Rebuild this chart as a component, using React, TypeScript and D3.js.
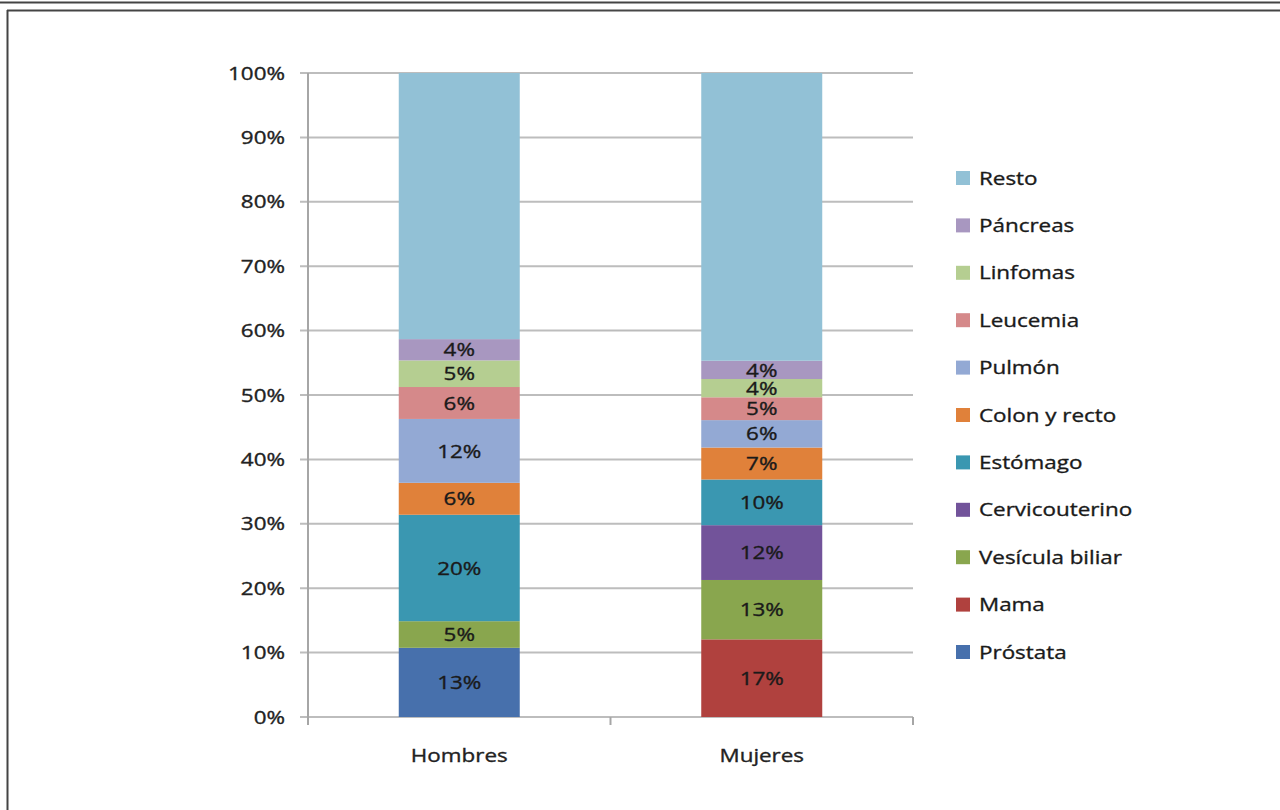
import React from "react";
import * as d3 from "d3";

// Categories along the x axis
const groups = ["Hombres", "Mujeres"];

// Cancer types, bottom of the stack first
const causes = [
  "Próstata",
  "Mama",
  "Vesícula biliar",
  "Cervicouterino",
  "Estómago",
  "Colon y recto",
  "Pulmón",
  "Leucemia",
  "Linfomas",
  "Páncreas",
  "Resto",
];

// Values per cause (same order as `causes`) for each group
const hombresValues = [13, 0, 5, 0, 20, 6, 12, 6, 5, 4, 50];
const mujeresValues = [0, 17, 13, 12, 10, 7, 6, 5, 4, 4, 63];

// Which segments carry a value label
const labelled = causes.map((c) => c !== "Resto");

const causeColors = [
  "#4770ac",
  "#b0413e",
  "#89a64e",
  "#72539a",
  "#3a97b1",
  "#e0813a",
  "#93a9d4",
  "#d5898a",
  "#b5ce91",
  "#a897c0",
  "#92c1d6",
];

const yTicks = [0, 0.1, 0.2, 0.3, 0.4, 0.5, 0.6, 0.7, 0.8, 0.9, 1];

const W = 1280;
const H = 810;
const FONT = "'Open Sans', Lato, sans-serif";
const STRETCH = 1.18;

// Text drawn with a slight horizontal stretch, anchored at (x, y)
function Label(props: {
  x: number;
  y: number;
  anchor?: "start" | "middle" | "end";
  size?: number;
  fill?: string;
  children: React.ReactNode;
}) {
  const { x, y, anchor = "start", size = 19, fill = "#111", children } = props;
  return (
    <text
      transform={`translate(${x},${y}) scale(${STRETCH},1)`}
      dy="0.35em"
      textAnchor={anchor}
      fontFamily={FONT}
      fontSize={size}
      fontWeight={500}
      fill={fill}
      stroke={fill}
      strokeWidth={0.35}
    >
      {children}
    </text>
  );
}

export default function App() {
  const plot = { left: 308, right: 913, top: 73, bottom: 717 };

  const rows = groups.map((g, gi) => {
    const vals = gi === 0 ? hombresValues : mujeresValues;
    const row: Record<string, any> = { group: g };
    causes.forEach((c, i) => (row[c] = vals[i]));
    return row;
  });

  const stack = d3
    .stack<Record<string, any>>()
    .keys(causes)
    .offset(d3.stackOffsetExpand);
  const series = stack(rows);

  const x = d3
    .scaleBand()
    .domain(groups)
    .range([plot.left, plot.right])
    .paddingInner(0)
    .paddingOuter(0);
  const barW = x.bandwidth() * 0.4;

  const y = d3.scaleLinear().domain([0, 1]).range([plot.bottom, plot.top]);
  const fmt = d3.format(".0%");

  const color = d3.scaleOrdinal<string, string>().domain(causes).range(causeColors);

  const legendX = 956;
  const legendTop = 178;
  const legendStep = 47.4;
  const legendOrder = causes.slice().reverse();

  return (
    <div style={{ position: "absolute", left: 0, top: 0 }}>
      <svg width={W} height={H} style={{ display: "block", background: "#fff" }}>
        {/* page frame */}
        <line x1={0} x2={W} y1={2.5} y2={2.5} stroke="#444" strokeWidth={2} />
        <line x1={7} x2={W} y1={10.5} y2={10.5} stroke="#444" strokeWidth={2} />
        <line x1={7.5} x2={7.5} y1={10} y2={H} stroke="#444" strokeWidth={2} />

        {/* horizontal gridlines */}
        {yTicks.map((t) => (
          <line
            key={"g" + t}
            x1={plot.left - 8}
            x2={plot.right}
            y1={y(t)}
            y2={y(t)}
            stroke="#bdbdbd"
            strokeWidth={2}
          />
        ))}

        {/* y axis */}
        <line x1={plot.left} x2={plot.left} y1={plot.top} y2={plot.bottom} stroke="#a6a6a6" strokeWidth={2} />
        {yTicks.map((t) => (
          <Label key={"t" + t} x={plot.left - 23} y={y(t)} anchor="end" fill="#222">
            {fmt(t)}
          </Label>
        ))}

        {/* x axis category ticks */}
        {[plot.left, ...groups.map((g) => (x(g) as number) + x.bandwidth())].map((xx, i) => (
          <line key={"xt" + i} x1={xx} x2={xx} y1={plot.bottom} y2={plot.bottom + 8} stroke="#a6a6a6" strokeWidth={2} />
        ))}

        {/* stacked bars */}
        {series.map((s) => (
          <g key={s.key} fill={color(s.key)}>
            {s.map((d, di) => {
              const g = groups[di];
              const x0 = (x(g) as number) + (x.bandwidth() - barW) / 2;
              const h = y(d[0]) - y(d[1]);
              if (h <= 0) return null;
              return <rect key={g} x={x0} y={y(d[1])} width={barW} height={h} />;
            })}
          </g>
        ))}

        {/* value labels */}
        {series.map((s, si) =>
          labelled[si]
            ? s.map((d, di) => {
                const g = groups[di];
                const v = (d.data as any)[s.key] as number;
                if (!v) return null;
                const cx = (x(g) as number) + x.bandwidth() / 2;
                const cy = (y(d[0]) + y(d[1])) / 2;
                return (
                  <Label key={s.key + g} x={cx} y={cy} anchor="middle" fill="#1a1a1a">
                    {v}%
                  </Label>
                );
              })
            : null
        )}

        {/* category labels */}
        {groups.map((g) => (
          <Label key={"c" + g} x={(x(g) as number) + x.bandwidth() / 2} y={755} anchor="middle" fill="#222">
            {g}
          </Label>
        ))}

        {/* legend */}
        {legendOrder.map((c, i) => {
          const ly = legendTop + i * legendStep;
          return (
            <g key={"l" + c}>
              <rect x={legendX} y={ly - 7} width={14} height={14} fill={color(c)} />
              <Label x={legendX + 23} y={ly} size={19} fill="#1a1a1a">
                {c}
              </Label>
            </g>
          );
        })}
      </svg>
    </div>
  );
}
